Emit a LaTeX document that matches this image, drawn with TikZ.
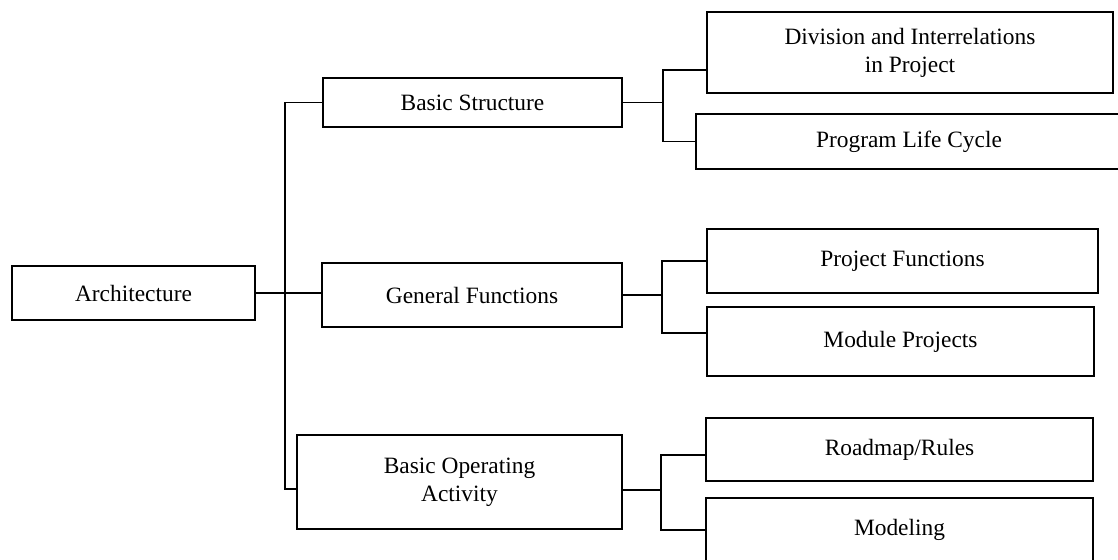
\documentclass[tikz,border=0pt]{standalone}
\usepackage{fontspec}
\setmainfont{Liberation Serif}

\begin{document}
\begin{tikzpicture}[x=0.5pt, y=-0.5pt,
    box/.style = {draw, line width=0.8pt, inner sep=0pt, align=center,
                  font=\fontsize{11.7}{14}\selectfont},
    link/.style = {line width=0.8pt}]
  \useasboundingbox (0,0) rectangle (1118,559);
  \clip (0,0) rectangle (1118,559);

  % root and first level
  \node[box, minimum width=121.5pt, minimum height=27pt] (arch) at (133.5,293) {Architecture};
  \node[box, minimum width=149.5pt, minimum height=24.5pt] (bs) at (472.5,102.5) {Basic Structure};
  \node[box, minimum width=150pt, minimum height=32pt] (gf) at (472,295) {General Functions};
  \node[box, minimum width=162.5pt, minimum height=47pt] (boa) at (459.5,482) {Basic Operating\\Activity};

  % second level
  \node[box, minimum width=203pt, minimum height=40.5pt] (div) at (910,52.5) {Division and Interrelations\\in Project};
  \node[box, minimum width=213pt, minimum height=27.5pt] (plc) at (909,141.5) {Program Life Cycle};
  \node[box, minimum width=195.5pt, minimum height=32pt] (pf) at (902.5,261) {Project Functions};
  \node[box, minimum width=193.5pt, minimum height=34.5pt] (mp) at (900.5,341.5) {Module Projects};
  \node[box, minimum width=193.5pt, minimum height=31.5pt] (rr) at (899.5,449.5) {Roadmap/Rules};
  \node[box, minimum width=193.5pt, minimum height=32pt] (mod) at (899.5,530) {Modeling};

  \coordinate (tk) at (285,293);
  \coordinate (b1) at (663,103);
  \coordinate (b2) at (662,292);
  \coordinate (b3) at (661,490);

  % trunk
  \draw[link] (arch.east) -- (arch.east -| gf.west);
  \draw[link] ([yshift=-3.5pt]boa.west) -| (tk |- bs.west) -- (bs.west);

  % branches
  \draw[link] (bs.east) -- (bs.east -| b1);
  \draw[link] ([yshift=-8.75pt]div.west) -| (b1 |- plc.west) -- (plc.west);
  \draw[link] (gf.east) -- (gf.east -| b2);
  \draw[link] ([yshift=4.25pt]mp.west) -| (b2 |- pf.west) -- (pf.west);
  \draw[link] (b3) -- (b3 -| boa.east);
  \draw[link] ([yshift=-2.75pt]rr.west) -| (b3 |- mod.west) -- (mod.west);
\end{tikzpicture}
\end{document}
